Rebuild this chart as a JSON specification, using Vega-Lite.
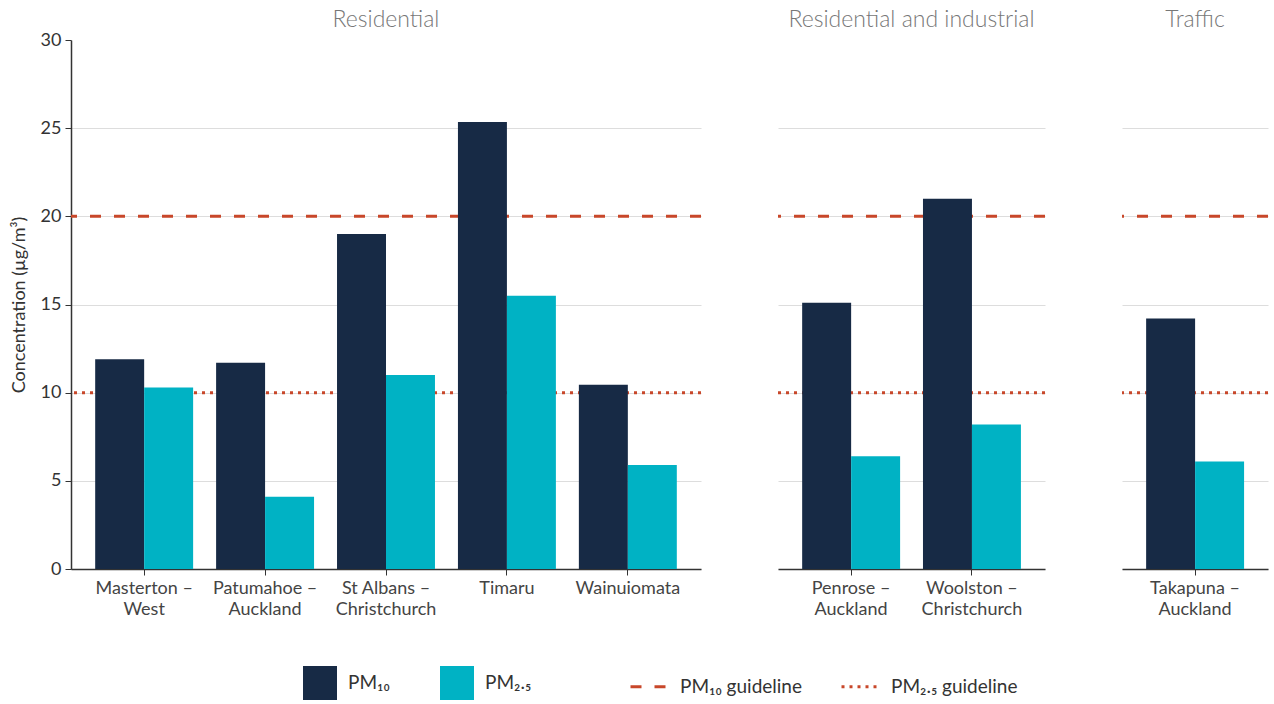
{
  "$schema": "https://vega.github.io/schema/vega-lite/v6.json",
  "background": "white",
  "padding": {"left": 10, "right": 5, "top": 9, "bottom": 5},
  "data": {
    "values": [
      {"kind": "bar", "panel": "Residential", "site": "Masterton – West", "pollutant": "PM₁₀", "value": 11.9},
      {"kind": "bar", "panel": "Residential", "site": "Masterton – West", "pollutant": "PM₂.₅", "value": 10.3},
      {"kind": "bar", "panel": "Residential", "site": "Patumahoe – Auckland", "pollutant": "PM₁₀", "value": 11.7},
      {"kind": "bar", "panel": "Residential", "site": "Patumahoe – Auckland", "pollutant": "PM₂.₅", "value": 4.1},
      {"kind": "bar", "panel": "Residential", "site": "St Albans – Christchurch", "pollutant": "PM₁₀", "value": 19.0},
      {"kind": "bar", "panel": "Residential", "site": "St Albans – Christchurch", "pollutant": "PM₂.₅", "value": 11.0},
      {"kind": "bar", "panel": "Residential", "site": "Timaru", "pollutant": "PM₁₀", "value": 25.35},
      {"kind": "bar", "panel": "Residential", "site": "Timaru", "pollutant": "PM₂.₅", "value": 15.5},
      {"kind": "bar", "panel": "Residential", "site": "Wainuiomata", "pollutant": "PM₁₀", "value": 10.45},
      {"kind": "bar", "panel": "Residential", "site": "Wainuiomata", "pollutant": "PM₂.₅", "value": 5.9},
      {"kind": "bar", "panel": "Residential and industrial", "site": "Penrose – Auckland", "pollutant": "PM₁₀", "value": 15.1},
      {"kind": "bar", "panel": "Residential and industrial", "site": "Penrose – Auckland", "pollutant": "PM₂.₅", "value": 6.4},
      {"kind": "bar", "panel": "Residential and industrial", "site": "Woolston – Christchurch", "pollutant": "PM₁₀", "value": 21.0},
      {"kind": "bar", "panel": "Residential and industrial", "site": "Woolston – Christchurch", "pollutant": "PM₂.₅", "value": 8.2},
      {"kind": "bar", "panel": "Traffic", "site": "Takapuna – Auckland", "pollutant": "PM₁₀", "value": 14.2},
      {"kind": "bar", "panel": "Traffic", "site": "Takapuna – Auckland", "pollutant": "PM₂.₅", "value": 6.1},
      {"kind": "guideline", "guideline": "PM₁₀ guideline", "value": 20},
      {"kind": "guideline", "guideline": "PM₂.₅ guideline", "value": 10}
    ]
  },
  "spacing": 77,
  "bounds": "flush",
  "hconcat": [
    {
      "title": {"text": "Residential", "offset": -1},
      "width": 630,
      "height": 529,
      "layer": [
        {
          "transform": [{"filter": "datum.kind == 'none'"}],
          "mark": {"type": "bar"},
          "encoding": {
            "color": {
              "field": "pollutant",
              "type": "nominal",
              "scale": {"domain": ["PM₁₀", "PM₂.₅"], "range": ["#172a45", "#00b2c4"]},
              "legend": {
                "title": " ",
                "titleOrient": "left",
                "titlePadding": 42,
                "orient": "bottom",
                "direction": "horizontal",
                "symbolType": "square",
                "symbolSize": 1156,
                "symbolStrokeWidth": 0,
                "labelFontSize": 19,
                "labelColor": "#333333",
                "labelFont": "Lato",
                "labelOffset": 11,
                "columnPadding": 50,
                "offset": 48
              }
            }
          }
        },
        {
          "transform": [{"filter": "datum.kind == 'guideline'"}],
          "mark": {"type": "rule", "color": "#c8472a", "strokeWidth": 3},
          "encoding": {
            "y": {"field": "value", "type": "quantitative", "scale": {"domain": [0, 30]}},
            "strokeDash": {
              "field": "guideline",
              "type": "nominal",
              "scale": {"domain": ["PM₁₀ guideline", "PM₂.₅ guideline"], "range": [[11, 13], [3, 5]]},
              "legend": {
                "title": null,
                "orient": "bottom",
                "direction": "horizontal",
                "symbolType": "stroke",
                "symbolSize": 1444,
                "symbolStrokeColor": "#c8472a",
                "symbolStrokeWidth": 3,
                "labelFontSize": 19,
                "labelColor": "#333333",
                "labelFont": "Lato",
                "labelOffset": 10,
                "columnPadding": 33,
                "offset": 48
              }
            }
          }
        },
        {
          "transform": [{"filter": "datum.kind == 'bar' && datum.panel == 'Residential'"}],
          "mark": {"type": "bar"},
          "encoding": {
            "x": {"field": "site", "type": "nominal", "sort": null, "scale": {"paddingInner": 0.19, "paddingOuter": 0.2}},
            "xOffset": {"field": "pollutant", "type": "nominal", "sort": ["PM₁₀", "PM₂.₅"]},
            "y": {
              "field": "value",
              "type": "quantitative",
              "scale": {"domain": [0, 30]},
              "axis": {
                "values": [0, 5, 10, 15, 20, 25, 30],
                "title": "Concentration (µg/m³)",
                "titleFont": "Lato",
                "titleFontSize": 18,
                "titleFontWeight": "normal",
                "titleColor": "#333333",
                "titlePadding": 12,
                "labelFont": "Lato",
                "labelFontSize": 18,
                "labelColor": "#333333",
                "labelPadding": 4,
                "domainColor": "#333333",
                "domainWidth": 1.5,
                "tickColor": "#333333",
                "tickSize": 6,
                "gridColor": "#dddddd",
                "gridOpacity": {"condition": {"test": "datum.value >= 30", "value": 0}, "value": 1}
              }
            },
            "color": {"field": "pollutant", "type": "nominal"}
          }
        }
      ]
    },
    {
      "title": "Residential and industrial",
      "width": 267,
      "height": 529,
      "layer": [
        {
          "transform": [{"filter": "datum.kind == 'guideline'"}],
          "mark": {"type": "rule", "color": "#c8472a", "strokeWidth": 3},
          "encoding": {
            "y": {"field": "value", "type": "quantitative", "scale": {"domain": [0, 30]}},
            "strokeDash": {"field": "guideline", "type": "nominal"}
          }
        },
        {
          "transform": [{"filter": "datum.kind == 'bar' && datum.panel == 'Residential and industrial'"}],
          "mark": {"type": "bar"},
          "encoding": {
            "x": {"field": "site", "type": "nominal", "sort": null, "scale": {"paddingInner": 0.19, "paddingOuter": 0.2}},
            "xOffset": {"field": "pollutant", "type": "nominal", "sort": ["PM₁₀", "PM₂.₅"]},
            "y": {
              "field": "value",
              "type": "quantitative",
              "scale": {"domain": [0, 30]},
              "axis": {
                "values": [0, 5, 10, 15, 20, 25, 30],
                "title": null,
                "labels": false,
                "ticks": false,
                "domain": false,
                "gridColor": "#dddddd",
                "gridOpacity": {"condition": {"test": "datum.value >= 30", "value": 0}, "value": 1}
              }
            },
            "color": {"field": "pollutant", "type": "nominal"}
          }
        }
      ]
    },
    {
      "title": "Traffic",
      "width": 146,
      "height": 529,
      "layer": [
        {
          "transform": [{"filter": "datum.kind == 'guideline'"}],
          "mark": {"type": "rule", "color": "#c8472a", "strokeWidth": 3},
          "encoding": {
            "y": {"field": "value", "type": "quantitative", "scale": {"domain": [0, 30]}},
            "strokeDash": {"field": "guideline", "type": "nominal"}
          }
        },
        {
          "transform": [{"filter": "datum.kind == 'bar' && datum.panel == 'Traffic'"}],
          "mark": {"type": "bar"},
          "encoding": {
            "x": {"field": "site", "type": "nominal", "sort": null, "scale": {"paddingInner": 0.19, "paddingOuter": 0.2}},
            "xOffset": {"field": "pollutant", "type": "nominal", "sort": ["PM₁₀", "PM₂.₅"]},
            "y": {
              "field": "value",
              "type": "quantitative",
              "scale": {"domain": [0, 30]},
              "axis": {
                "values": [0, 5, 10, 15, 20, 25, 30],
                "title": null,
                "labels": false,
                "ticks": false,
                "domain": false,
                "gridColor": "#dddddd",
                "gridOpacity": {"condition": {"test": "datum.value >= 30", "value": 0}, "value": 1}
              }
            },
            "color": {"field": "pollutant", "type": "nominal"}
          }
        }
      ]
    }
  ],
  "config": {
    "font": "Lato",
    "view": {"stroke": null},
    "title": {"fontSize": 23, "fontWeight": 300, "color": "#777777", "font": "Lato", "anchor": "middle", "offset": 8, "frame": "group"},
    "axisX": {
      "title": null,
      "labelAngle": 0,
      "labelFontSize": 18,
      "labelColor": "#444444",
      "labelFont": "Lato",
      "labelLineHeight": 21,
      "labelPadding": 4,
      "labelExpr": "indexof(datum.label, ' – ') > 0 ? [split(datum.label, ' – ')[0] + ' –', split(datum.label, ' – ')[1]] : datum.label",
      "domainColor": "#333333",
      "domainWidth": 1.5,
      "tickColor": "#333333",
      "tickSize": 6
    },
    "legend": {
      "layout": {"bottom": {"anchor": "middle", "direction": "horizontal", "margin": 97}}
    }
  }
}
